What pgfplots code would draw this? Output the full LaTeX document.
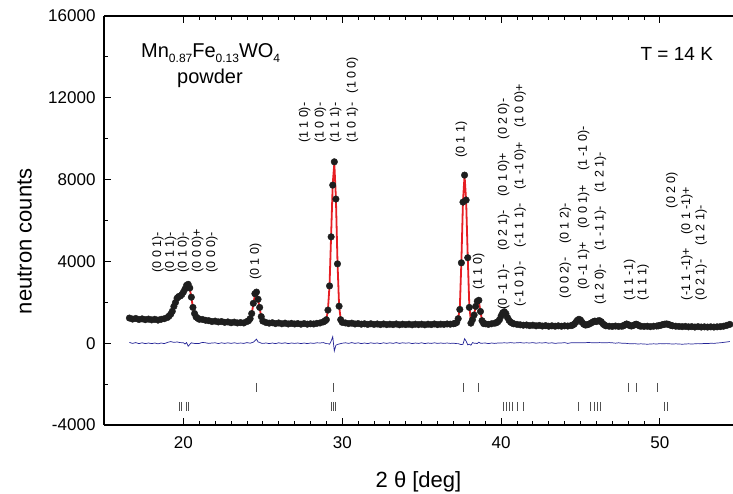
\documentclass[border=0pt]{standalone}
\usepackage{pgfplots}
\pgfplotsset{compat=1.18}
\usepackage{fontspec}
\setmainfont{Liberation Sans}
\definecolor{dotc}{RGB}{30,30,30}
\definecolor{calcred}{RGB}{230,30,35}
\definecolor{diffblue}{RGB}{35,35,150}
\definecolor{tickgray}{RGB}{80,80,80}
\newcommand{\lab}{\fontsize{12.5}{12.5}\selectfont}
\newcommand{\sub}[1]{\raisebox{-5pt}{\fontsize{12}{12}\selectfont #1}}
\begin{document}
\begin{tikzpicture}
\useasboundingbox (0,0) rectangle (733pt,493pt);
\begin{axis}[
 at={(104pt,68pt)}, anchor=south west,
 width=629pt, height=409pt, scale only axis,
 xmin=15, xmax=54.6, ymin=-4000, ymax=16000,
 axis x line*=box, axis y line*=left,
 xtick={20,30,40,50}, xticklabels={20,30,40,50},
 minor x tick num=9,
 ytick={-4000,0,4000,8000,12000,16000}, yticklabels={-4000,0,4000,8000,12000,16000},
 minor y tick num=1,
 scaled ticks=false,
 tick align=inside,
 major tick length=7pt, minor tick length=4pt,
 every tick/.style={black, line width=0.9pt},
 axis line style={line width=1.1pt},
 tick label style={font=\fontsize{17}{17}\selectfont},
 xticklabel style={yshift=-8pt},
 yticklabel style={xshift=-5pt},
 xlabel={2 θ [deg]}, ylabel={neutron counts},
 label style={font=\fontsize{22}{22}\selectfont},
 xlabel style={at={(axis description cs:0.5,-0.154)}, anchor=base},
 ylabel style={at={(axis description cs:-0.115,0.449)}, anchor=base},
]
% observed
\addplot[only marks, mark=*, mark size=3.3pt, mark options={fill=dotc, draw=dotc}] coordinates {
(16.6,1230)(16.8,1180)(17.0,1210)(17.2,1160)(17.4,1190)(17.6,1150)(17.8,1180)(18.0,1140)(18.2,1170)(18.4,1130)(18.6,1170)(18.8,1200)(19.0,1260)
(19.1,1330)(19.2,1420)(19.3,1560)(19.4,1800)(19.5,1990)(19.6,2200)(19.7,2280)(19.8,2310)(19.9,2380)(20.0,2500)(20.1,2650)(20.2,2830)(20.3,2880)(20.4,2700)(20.5,2250)(20.6,1750)(20.7,1450)(20.8,1280)(20.9,1220)(21.0,1170)
(21.2,1160)(21.4,1120)(21.6,1100)(21.8,1060)(22.0,1080)(22.2,1040)(22.4,1060)(22.6,1020)(22.8,1040)(23.0,1000)(23.2,1030)(23.4,990)(23.6,1010)(23.8,990)(24.0,1060)
(24.1,1100)(24.2,1200)(24.3,1450)(24.4,1950)(24.5,2420)(24.6,2500)(24.7,2150)(24.8,1750)(24.9,1300)(25.0,1080)
(25.2,1010)(25.4,980)(25.6,1000)(25.8,960)(26.0,990)(26.2,950)(26.4,980)(26.6,940)(26.8,970)(27.0,940)(27.2,960)(27.4,930)(27.6,960)(27.8,930)(28.0,950)(28.2,940)(28.4,970)(28.6,990)(28.8,1040)
(28.9,1080)(29.0,1150)(29.1,1620)(29.2,2800)(29.3,5200)(29.4,7730)(29.5,8870)(29.6,7050)(29.7,3880)(29.8,1810)(29.9,1150)(30.0,1020)
(30.2,990)(30.4,960)(30.6,980)(30.8,940)(31.0,960)(31.2,930)(31.4,950)(31.6,920)(31.8,950)(32.0,920)(32.2,940)(32.4,910)(32.6,940)(32.8,910)(33.0,930)(33.2,910)(33.4,940)(33.6,900)(33.8,930)(34.0,910)(34.2,930)(34.4,900)(34.6,930)(34.8,910)(35.0,930)(35.2,900)(35.4,930)(35.6,910)(35.8,940)(36.0,910)(36.2,930)(36.4,920)(36.6,940)(36.8,930)(37.0,950)
(37.1,970)(37.2,1010)(37.3,1200)(37.4,1650)(37.5,3930)(37.6,6900)(37.7,8220)(37.8,7000)(37.9,4180)(38.0,1750)(38.1,980)(38.2,1150)(38.3,1380)(38.4,1800)(38.5,2050)(38.6,2100)(38.7,1550)(38.8,1100)(38.9,960)
(39.0,950)(39.2,920)(39.4,950)(39.6,980)
(39.7,1000)(39.8,1050)(39.9,1150)(40.0,1330)(40.1,1480)(40.2,1540)(40.3,1450)(40.4,1260)(40.5,1120)(40.6,1030)(40.7,980)
(40.8,950)(41.0,920)(41.2,900)(41.4,880)(41.6,890)(41.8,860)(42.0,880)(42.2,850)(42.4,870)(42.6,840)(42.8,860)(43.0,830)(43.2,850)(43.4,830)(43.6,850)(43.8,830)(44.0,850)(44.2,840)(44.4,860)
(44.5,880)(44.6,930)(44.7,1020)(44.8,1120)(44.9,1170)(45.0,1130)(45.1,1020)(45.2,930)(45.3,890)
(45.4,900)(45.5,920)(45.6,960)
(45.7,1000)(45.8,1050)(45.9,1080)(46.0,1060)(46.1,1090)(46.2,1100)(46.3,1050)(46.4,960)(46.5,890)(46.6,850)
(46.8,830)(47.0,820)(47.2,840)(47.4,820)(47.6,830)
(47.7,850)(47.8,900)(47.9,940)(48.0,910)(48.1,860)(48.2,840)(48.3,860)(48.4,900)(48.5,930)(48.6,900)(48.7,850)
(48.8,830)(49.0,820)(49.2,830)(49.4,810)(49.6,830)(49.8,840)
(49.9,850)(50.0,870)(50.1,890)(50.2,910)(50.3,930)(50.4,940)(50.5,930)(50.6,900)(50.7,870)(50.8,850)
(51.0,830)(51.2,820)(51.4,810)(51.6,820)(51.8,800)(52.0,810)(52.2,790)(52.4,810)(52.6,790)(52.8,800)(53.0,790)(53.2,800)(53.4,790)(53.6,800)(53.8,810)(54.0,830)(54.2,870)(54.4,920)
};
% calculated
\addplot[calcred, line width=1.8pt] coordinates {
(16.6,1190)(17.0,1180)(17.5,1170)(18.0,1160)(18.5,1160)(19.0,1220)(19.1,1300)(19.2,1400)(19.3,1550)(19.4,1760)(19.5,1980)(19.6,2150)(19.7,2250)(19.8,2300)(19.9,2370)(20.0,2480)(20.1,2640)(20.2,2800)(20.3,2850)(20.4,2680)(20.5,2230)(20.6,1750)(20.7,1440)(20.8,1290)(20.9,1220)(21.0,1180)(21.5,1100)(22.0,1060)(22.5,1030)(23.0,1010)(23.5,1000)(24.0,1030)(24.1,1080)(24.2,1200)(24.3,1450)(24.4,1900)(24.5,2350)(24.6,2450)(24.7,2150)(24.8,1700)(24.9,1300)(25.0,1090)(25.2,1010)(25.5,990)(26.0,970)(27.0,950)(28.0,945)(28.5,960)(28.8,1010)(28.9,1060)(29.0,1170)(29.1,1640)(29.2,2850)(29.3,5300)(29.4,7800)(29.5,8800)(29.6,7100)(29.7,3950)(29.8,1850)(29.9,1170)(30.0,1020)(30.2,970)(31.0,950)(32.0,940)(33.0,930)(34.0,925)(35.0,925)(36.0,925)(36.8,940)(37.0,960)(37.1,980)(37.2,1020)(37.3,1220)(37.4,1700)(37.5,4000)(37.6,6950)(37.7,8200)(37.8,6950)(37.9,4200)(38.0,1800)(38.1,1080)(38.2,1120)(38.3,1380)(38.4,1800)(38.5,2070)(38.6,2050)(38.7,1550)(38.8,1100)(38.9,970)(39.0,940)(39.5,950)(39.7,990)(39.8,1040)(39.9,1140)(40.0,1320)(40.1,1470)(40.2,1520)(40.3,1430)(40.4,1250)(40.5,1100)(40.6,1000)(40.7,950)(41.0,900)(41.5,870)(42.0,850)(43.0,830)(44.0,820)(44.4,840)(44.5,860)(44.6,910)(44.7,1000)(44.8,1100)(44.9,1150)(45.0,1110)(45.1,1000)(45.2,910)(45.3,870)(45.4,870)(45.5,890)(45.6,930)(45.7,980)(45.8,1030)(45.9,1060)(46.0,1040)(46.1,1060)(46.2,1070)(46.3,1020)(46.4,940)(46.5,870)(46.6,830)(47.0,800)(47.5,800)(47.7,830)(47.8,880)(47.9,920)(48.0,890)(48.1,840)(48.2,820)(48.3,840)(48.4,880)(48.5,910)(48.6,880)(48.7,830)(48.8,810)(49.5,800)(49.9,830)(50.0,850)(50.1,870)(50.2,890)(50.3,910)(50.4,920)(50.5,910)(50.6,880)(50.7,850)(50.8,830)(51.0,810)(52.0,795)(53.0,790)(53.5,790)(54.0,820)(54.2,860)(54.4,910)
};
% difference
\addplot[diffblue, line width=0.7pt] coordinates {
(16.6,40)(16.8,-10)(17.0,30)(17.2,-20)(17.4,20)(17.6,-20)(17.8,10)(18.0,-20)(18.2,10)(18.4,-30)(18.6,10)(18.8,-20)(19.0,40)(19.2,80)(19.4,40)(19.6,60)(19.8,30)(20.0,20)(20.1,-40)(20.2,30)(20.3,-150)(20.4,-60)(20.5,20)(20.6,0)(20.8,-20)(21.0,-10)(21.2,40)(21.4,20)(21.6,-10)(21.8,10)(22.0,20)(22.2,-20)(22.4,20)(22.6,-10)(22.8,20)(23.0,-10)(23.2,20)(23.4,-10)(23.6,10)(23.8,-10)(24.0,30)(24.2,0)(24.4,50)(24.5,120)(24.6,200)(24.7,60)(24.8,40)(24.9,0)(25.0,-10)(25.2,10)(25.4,-20)(25.6,10)(25.8,-20)(26.0,20)(26.2,-10)(26.4,20)(26.6,-20)(26.8,10)(27.0,-10)(27.2,10)(27.4,-20)(27.6,10)(27.8,-20)(28.0,10)(28.2,-10)(28.4,20)(28.6,10)(28.8,30)(29.0,-20)(29.1,-20)(29.2,-50)(29.3,100)(29.4,320)(29.5,-380)(29.6,-100)(29.7,-60)(29.8,-40)(29.9,-20)(30.0,0)(30.2,20)(30.4,-10)(30.6,30)(30.8,-10)(31.0,20)(31.2,-20)(31.4,10)(31.6,-20)(31.8,20)(32.0,-10)(32.2,10)(32.4,-20)(32.6,20)(32.8,-10)(33.0,20)(33.2,-10)(33.4,30)(33.6,-10)(33.8,20)(34.0,0)(34.2,20)(34.4,-20)(34.6,10)(34.8,-10)(35.0,20)(35.2,-20)(35.4,10)(35.6,-10)(35.8,20)(36.0,-10)(36.2,10)(36.4,-10)(36.6,10)(36.8,-10)(37.0,0)(37.2,-20)(37.3,-20)(37.4,-50)(37.5,-70)(37.6,-50)(37.7,220)(37.8,100)(37.9,-80)(38.0,-50)(38.1,-100)(38.2,30)(38.3,0)(38.4,0)(38.5,-20)(38.6,50)(38.7,0)(38.8,0)(39.0,10)(39.2,-20)(39.4,10)(39.6,-10)(39.8,10)(40.0,10)(40.2,20)(40.4,10)(40.6,30)(40.8,10)(41.0,20)(41.2,30)(41.4,10)(41.6,20)(41.8,10)(42.0,30)(42.2,0)(42.4,20)(42.6,10)(42.8,30)(43.0,0)(43.2,20)(43.4,-10)(43.6,10)(43.8,10)(44.0,30)(44.2,-10)(44.4,20)(44.6,20)(44.8,20)(45.0,20)(45.2,20)(45.4,30)(45.6,30)(45.8,20)(46.0,20)(46.2,30)(46.4,20)(46.6,20)(46.8,30)(47.0,20)(47.2,0)(47.4,20)(47.6,0)(47.8,0)(48.0,-20)(48.2,-30)(48.4,-20)(48.6,-40)(48.8,-30)(49.0,-40)(49.2,-50)(49.4,-40)(49.6,-30)(49.8,-40)(50.0,-20)(50.2,-30)(50.4,-20)(50.6,-30)(50.8,-40)(51.0,-30)(51.2,-40)(51.4,-50)(51.6,-40)(51.8,-30)(52.0,-40)(52.2,-30)(52.4,-20)(52.6,-30)(52.8,-10)(53.0,-20)(53.2,0)(53.4,-10)(53.6,10)(53.8,20)(54.0,40)(54.2,60)(54.4,80)
};
% reflection ticks, row 1 (magnetic)
\addplot[only marks, mark=|, mark size=4.5pt, mark options={tickgray, line width=1pt}] coordinates {
(24.63,-2166)(29.45,-2166)(37.62,-2166)(38.55,-2166)(48.0,-2166)(48.55,-2166)(49.85,-2166)
};
% reflection ticks, row 2 (nuclear)
\addplot[only marks, mark=|, mark size=4.5pt, mark options={tickgray, line width=1pt}] coordinates {
(19.78,-3095)(19.91,-3095)(20.22,-3095)(20.35,-3095)(29.35,-3095)(29.45,-3095)(29.58,-3095)(40.15,-3095)(40.34,-3095)(40.53,-3095)(40.72,-3095)(41.03,-3095)(41.4,-3095)(44.87,-3095)(45.62,-3095)(45.87,-3095)(46.06,-3095)(46.25,-3095)(50.31,-3095)(50.5,-3095)
};
% reflection labels
\begin{scope}[every node/.style={rotate=90, anchor=west, inner sep=0pt, font=\lab}]
\node at (axis cs:18.4,3450) {(0 0 1)-};
\node at (axis cs:19.2,3450) {(0 1 1)-};
\node at (axis cs:20.0,3450) {(0 1 0)-};
\node at (axis cs:20.9,3450) {(0 0 0)+};
\node at (axis cs:21.8,3450) {(0 0 0)-};
\node at (axis cs:24.55,3100) {(0 1 0)};
\node at (axis cs:27.63,9780) {(1 1 0)-};
\node at (axis cs:28.63,9780) {(1 0 0)-};
\node at (axis cs:29.58,9780) {(1 1 1)-};
\node at (axis cs:30.63,9780) {(1 0 1)-};
\node at (axis cs:30.63,12220) {(1 0 0)};
\node at (axis cs:37.5,9050) {(0 1 1)};
\node at (axis cs:38.59,2600) {(1 1 0)};
\node at (axis cs:40.16,1650) {(0 -1 1)-\hspace{14pt}(0 2 1)-\hspace{14pt}(0 1 0)+\hspace{14pt}(0 2 0)-};
\node at (axis cs:41.2,1800) {(-1 0 1)-\hspace{14pt}(-1 1 1)-\hspace{14pt}(1 -1 0)+\hspace{14pt}(1 0 0)+};
\node at (axis cs:44.05,2200) {(0 0 2)-\hspace{14pt}(0 1 2)-};
\node at (axis cs:45.2,2600) {(0 -1 1)+\hspace{14pt}(0 0 1)+\hspace{14pt}(1 -1 0)-};
\node at (axis cs:46.25,1860) {(1 2 0)-\hspace{14pt}(1 -1 1)-\hspace{14pt}(1 2 1)-};
\node at (axis cs:48.1,2100) {(1 1 -1)};
\node at (axis cs:48.95,2100) {(1 1 1)};
\node at (axis cs:50.75,6600) {(0 2 0)};
\node at (axis cs:51.7,2100) {(-1 1 -1)+\hspace{14pt}(0 1 -1)+};
\node at (axis cs:52.6,2100) {(0 2 1)-\hspace{14pt}(1 2 1)-};
\end{scope}
\node[anchor=base west, inner sep=0pt, font=\fontsize{20}{20}\selectfont] at (axis cs:17.33,13950) {Mn\sub{0.87}Fe\sub{0.13}WO\sub{4}};
\node[anchor=base, inner sep=0pt, font=\fontsize{20}{20}\selectfont] at (axis cs:21.67,12700) {powder};
\node[anchor=base west, inner sep=0pt, font=\fontsize{19}{19}\selectfont] at (axis cs:48.77,13840) {T = 14 K};
\end{axis}
\end{tikzpicture}
\end{document}
